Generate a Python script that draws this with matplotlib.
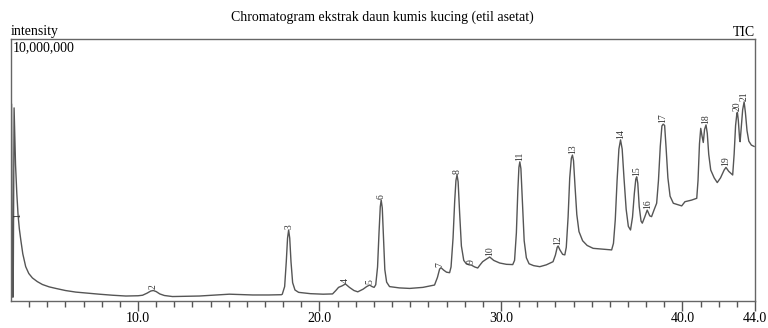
import numpy as np
from matplotlib import pyplot as plt

# retention time (min) and intensity (millions of counts)
ret_time = [3.00, 3.03, 3.08, 3.12, 3.17, 3.25, 3.32, 3.39, 3.46, 3.54,
            3.65, 3.81, 3.98, 4.18, 4.45, 4.73, 5.10, 5.47, 6.00, 6.57,
            7.20, 7.86, 8.60, 9.33, 10.00, 10.25, 10.50, 10.70, 10.84, 11.00,
            11.20, 11.45, 11.90, 13.38, 15.03, 16.32, 17.20, 17.90, 17.95, 18.08,
            18.17, 18.24, 18.30, 18.36, 18.43, 18.52, 18.65, 18.85, 19.50, 20.20,
            20.72, 20.90, 21.05, 21.25, 21.43, 21.65, 21.90, 22.11, 22.40, 22.60,
            22.76, 22.90, 23.01, 23.10, 23.20, 23.28, 23.35, 23.40, 23.46, 23.53,
            23.60, 23.70, 23.86, 24.40, 24.97, 25.70, 26.34, 26.50, 26.62, 26.70,
            26.84, 27.00, 27.17, 27.25, 27.36, 27.45, 27.52, 27.58, 27.64, 27.72,
            27.82, 27.95, 28.09, 28.25, 28.37, 28.55, 28.72, 28.85, 28.99, 29.20,
            29.38, 29.60, 29.93, 30.30, 30.65, 30.75, 30.85, 30.93, 30.99, 31.04,
            31.10, 31.18, 31.28, 31.40, 31.55, 31.80, 32.14, 32.50, 32.87, 33.00,
            33.10, 33.15, 33.25, 33.40, 33.52, 33.60, 33.70, 33.79, 33.88, 33.94,
            34.00, 34.08, 34.18, 34.30, 34.50, 34.75, 35.08, 35.60, 36.10, 36.20,
            36.30, 36.40, 36.50, 36.59, 36.68, 36.78, 36.90, 37.02, 37.14, 37.25,
            37.35, 37.43, 37.48, 37.54, 37.62, 37.72, 37.79, 37.92, 38.06, 38.20,
            38.30, 38.45, 38.58, 38.68, 38.78, 38.87, 38.94, 39.02, 39.10, 39.20,
            39.32, 39.50, 39.96, 40.14, 40.50, 40.79, 40.86, 40.94, 41.01, 41.08,
            41.15, 41.22, 41.30, 41.37, 41.45, 41.56, 41.75, 41.92, 42.10, 42.30,
            42.40, 42.55, 42.77, 42.85, 42.93, 43.00, 43.03, 43.08, 43.15, 43.18,
            43.24, 43.32, 43.40, 43.47, 43.56, 43.66, 43.80, 43.95]
intensity = [0.08, 7.52, 0.15, 0.15, 7.37, 5.20, 4.10, 3.28, 2.75, 2.33,
             1.80, 1.31, 1.05, 0.88, 0.74, 0.63, 0.54, 0.48, 0.40, 0.34,
             0.30, 0.26, 0.22, 0.19, 0.20, 0.22, 0.30, 0.38, 0.40, 0.36,
             0.27, 0.21, 0.17, 0.19, 0.26, 0.23, 0.23, 0.24, 0.26, 0.55,
             1.50, 2.40, 2.71, 2.40, 1.50, 0.70, 0.42, 0.33, 0.28, 0.26,
             0.27, 0.40, 0.52, 0.58, 0.65, 0.52, 0.40, 0.35, 0.45, 0.55,
             0.61, 0.55, 0.52, 0.62, 1.30, 2.60, 3.60, 3.85, 3.55, 2.40,
             1.20, 0.72, 0.55, 0.50, 0.48, 0.52, 0.61, 0.90, 1.22, 1.27,
             1.18, 1.10, 1.08, 1.30, 2.40, 3.80, 4.60, 4.81, 4.55, 3.40,
             2.10, 1.55, 1.42, 1.38, 1.37, 1.30, 1.26, 1.38, 1.50, 1.60,
             1.68, 1.55, 1.45, 1.40, 1.39, 1.55, 2.60, 4.20, 5.10, 5.31,
             5.05, 3.80, 2.30, 1.65, 1.42, 1.35, 1.31, 1.38, 1.50, 1.75,
             2.05, 2.10, 1.95, 1.78, 1.76, 2.05, 3.20, 4.70, 5.45, 5.57,
             5.35, 4.40, 3.30, 2.65, 2.30, 2.12, 2.01, 1.98, 1.95, 2.20,
             3.10, 4.60, 5.80, 6.15, 5.80, 4.70, 3.50, 2.85, 2.71, 3.20,
             4.10, 4.65, 4.74, 4.50, 3.60, 3.05, 2.97, 3.20, 3.47, 3.25,
             3.22, 3.50, 3.73, 4.60, 5.90, 6.68, 6.75, 6.70, 5.85, 4.70,
             4.00, 3.73, 3.63, 3.79, 3.85, 3.92, 4.60, 6.00, 6.59, 6.30,
             6.05, 6.55, 6.72, 6.40, 5.60, 5.00, 4.70, 4.52, 4.70, 5.00,
             5.10, 4.95, 4.81, 5.60, 6.70, 7.15, 7.20, 6.90, 6.20, 6.08,
             6.60, 7.30, 7.60, 7.20, 6.50, 6.10, 5.95, 5.90]

peak_time = [3.39, 10.84, 18.30, 21.43, 22.76, 23.40, 26.66, 27.58, 28.37, 29.38,
             31.04, 33.15, 33.94, 36.59, 37.48, 38.06, 38.94, 41.30, 42.40, 43.03,
             43.40]
peak_label = [str(i) for i in range(1, 22)]

major_ticks = [10.0, 20.0, 30.0, 40.0, 44.0]
tick_labels = ['10.0', '20.0', '30.0', '40.0', '44.0']

plt.rcParams['font.family'] = ['Liberation Serif', 'DejaVu Serif']

fig = plt.figure(figsize=(7.68, 3.28), dpi=100)
ax = fig.add_axes([11 / 768, 1 - 301 / 328, 744 / 768, 262 / 328])

t = np.array(ret_time)
y = np.array(intensity) * 1e6
ax.plot(t, y, color='#555555', lw=1.0)

for pt, lab in zip(peak_time, peak_label):
    h = np.interp(pt, t, y)
    if lab == '1':
        ax.text(pt, h, lab, rotation=90, fontsize=7, ha='center', va='center', color='#333333')
    else:
        ax.text(pt, h + 0.5e5, lab, rotation=90, fontsize=7, ha='center', va='bottom', color='#333333')

ax.set_xlim(3.0, 44.0)
ax.set_ylim(0, 1e7)
ax.set_xticks(major_ticks)
ax.set_xticklabels(tick_labels, fontsize=10)
ax.set_xticks(np.arange(4, 44, 1.0), minor=True)
ax.tick_params(axis='x', which='major', direction='out', length=7, width=1, color='#555555', pad=1)
ax.tick_params(axis='x', which='minor', direction='out', length=4, width=1, color='#555555')
ax.set_yticks([])
for s in ax.spines.values():
    s.set_color('#666666')
    s.set_linewidth(1.0)

fig.text(382 / 768, 1 - 17 / 328, 'Chromatogram ekstrak daun kumis kucing (etil asetat)',
         fontsize=10, ha='center', va='center')
fig.text(11 / 768, 1 - 32 / 328, 'intensity', fontsize=10, ha='left', va='center')
fig.text(755 / 768, 1 - 32 / 328, 'TIC', fontsize=10, ha='right', va='center')
ax.text(0.002, 0.99, '10,000,000', transform=ax.transAxes, fontsize=10, ha='left', va='top')

fig.savefig('out.png', dpi=100)
